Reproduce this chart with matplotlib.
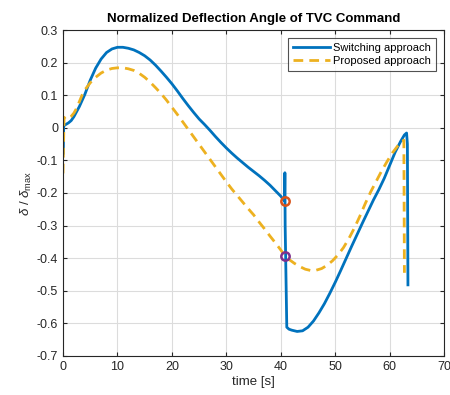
import numpy as np
import matplotlib.pyplot as plt

plt.rcParams['font.family'] = ['Liberation Sans', 'DejaVu Sans']
plt.rcParams['mathtext.fontset'] = 'custom'
plt.rcParams['mathtext.rm'] = 'Liberation Sans'
plt.rcParams['mathtext.it'] = 'Liberation Sans:italic'

# switching approach (blue)
t_sw = [0.0, 0.05, 0.12, 0.3, 1, 1.5, 2, 3, 4, 5, 6, 7, 8, 9, 10, 11, 12, 13, 14, 15,
        16, 17, 18, 19, 20, 21, 22, 23, 24, 25, 26, 27, 28, 29, 30, 31, 32, 33, 34, 35,
        36, 37, 38, 39, 40, 40.7, 40.75, 40.8, 41.1, 41.5, 42, 43, 44, 45, 46, 47, 48,
        49, 50, 51, 52, 53, 54, 55, 56, 57, 58, 59, 60, 61, 62, 62.7, 63.1, 63.25, 63.35]
d_sw = [-0.08, -0.08, 0.004, 0.008, 0.015, 0.022, 0.034, 0.065, 0.102, 0.146, 0.183, 0.211,
        0.231, 0.242, 0.247, 0.247, 0.244, 0.239, 0.231, 0.221, 0.208, 0.192, 0.174,
        0.155, 0.135, 0.113, 0.09, 0.068, 0.047, 0.027, 0.01, -0.008, -0.027, -0.045,
        -0.062, -0.078, -0.093, -0.107, -0.121, -0.134, -0.147, -0.161, -0.176, -0.193,
        -0.21, -0.225, -0.138, -0.3, -0.612, -0.618, -0.621, -0.625, -0.623, -0.612,
        -0.593, -0.568, -0.54, -0.508, -0.474, -0.438, -0.401, -0.364, -0.328, -0.292,
        -0.257, -0.222, -0.19, -0.155, -0.115, -0.075, -0.042, -0.022, -0.016, -0.05,
        -0.482]

# proposed approach (yellow)
t_pr = [0.0, 0.1, 0.2, 0.6, 1, 1.5, 2, 2.5, 3, 3.5, 4, 5, 6, 7, 8, 9, 10, 11, 12, 13,
        14, 15, 16, 17, 18, 19, 20, 21, 22, 23, 24, 25, 26, 27, 28, 29, 30, 31, 32, 33,
        34, 35, 36, 37, 38, 39, 40, 40.7, 41.5, 42.5, 43.5, 44.5, 45.5, 46.5, 47.5,
        48.5, 49.5, 50.5, 51.5, 52.5, 53.5, 54.5, 55.5, 56.5, 57.5, 58.5, 59.5, 60.5,
        61.5, 62.2, 62.6, 62.7]
d_pr = [-0.14, -0.05, 0.03, 0.035, 0.03, 0.035, 0.045, 0.06, 0.08, 0.1, 0.116, 0.138,
        0.155, 0.168, 0.177, 0.182, 0.184, 0.184, 0.181, 0.176, 0.167, 0.155, 0.14,
        0.123, 0.105, 0.085, 0.063, 0.041, 0.018, -0.005, -0.028, -0.051, -0.074,
        -0.097, -0.12, -0.143, -0.166, -0.188, -0.208, -0.228, -0.248, -0.267, -0.289,
        -0.31, -0.332, -0.353, -0.375, -0.392, -0.404, -0.416, -0.426, -0.434, -0.438,
        -0.437, -0.432, -0.422, -0.408, -0.39, -0.368, -0.34, -0.308, -0.272, -0.233,
        -0.197, -0.165, -0.133, -0.104, -0.077, -0.055, -0.043, -0.038, -0.445]

# switching instant markers
t_mark = 40.7
d_mark_sw = -0.225
d_mark_pr = -0.392

fig = plt.figure(figsize=(4.5, 3.95), dpi=100)
ax = fig.add_axes([0.14, 0.099, 0.847, 0.825])

ax.plot(t_sw, d_sw, color='#0072BD', lw=2, label='Switching approach')
ax.plot(t_pr, d_pr, color='#EDB120', lw=2, ls=(0, (3.5, 2.2)), label='Proposed approach')
ax.plot(t_mark, d_mark_sw, 'o', ms=6, mfc='none', mec='#D95319', mew=1.8)
ax.plot(t_mark, d_mark_pr, 'o', ms=6, mfc='none', mec='#7E2F8E', mew=1.8)

ax.set_xlim(0, 70)
ax.set_ylim(-0.7, 0.3)
ax.set_xticks(np.arange(0, 71, 10))
ax.set_yticks(np.arange(-0.7, 0.31, 0.1))
ax.set_yticklabels(['-0.7', '-0.6', '-0.5', '-0.4', '-0.3', '-0.2', '-0.1', '0', '0.1', '0.2', '0.3'])
ax.grid(True, color='#dcdcdc', lw=0.8)
ax.set_axisbelow(True)
ax.tick_params(labelsize=9, colors='#262626', direction='in', length=3, top=True, right=True,
               labeltop=False, labelright=False)
for s in ax.spines.values():
    s.set_color('#262626')
    s.set_linewidth(0.8)

ax.set_xlabel('time [s]', fontsize=9.5, color='#262626', labelpad=2)
ax.set_ylabel(r'$\delta$ / $\delta_{\rm max}$', fontsize=9.5, color='#262626', labelpad=2)
ax.set_title('Normalized Deflection Angle of TVC Command', fontsize=9.5, fontweight='bold', pad=6)

leg = ax.legend(loc='upper right', fontsize=8, frameon=True, fancybox=False,
                edgecolor='#262626', handlelength=3.3, borderpad=0.45, labelspacing=0.3,
                handletextpad=0.3, borderaxespad=0.7)
leg.get_frame().set_linewidth(0.8)

fig.savefig('out.png', dpi=100)
